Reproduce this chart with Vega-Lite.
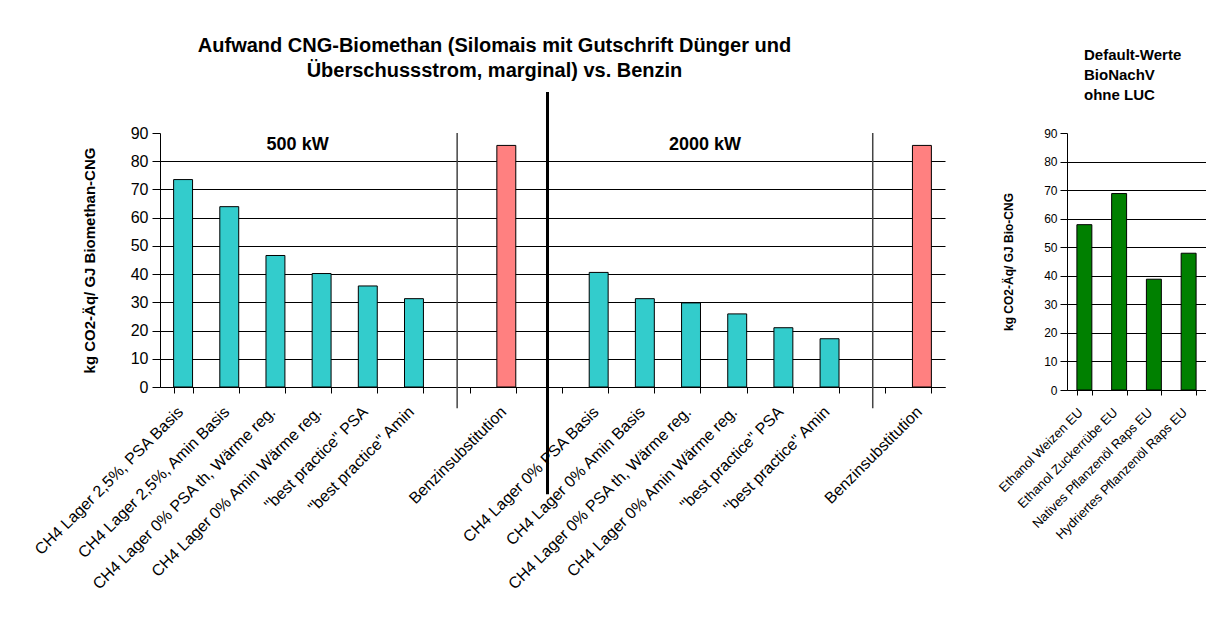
{
  "$schema": "https://vega.github.io/schema/vega-lite/v6.json",
  "padding": {"left": 31, "top": 35, "right": 0, "bottom": 0},
  "spacing": 51,
  "background": "white",
  "config": {
    "font": "Liberation Sans",
    "view": {"stroke": null},
    "axis": {"domainColor": "#000", "tickColor": "#000", "gridColor": "#000", "gridOpacity": 1, "labelColor": "#000", "titleColor": "#000", "labelOverlap": false, "labelLimit": 400},
    "title": {"color": "#000", "font": "Liberation Sans", "fontWeight": "bold"}
  },
  "hconcat": [
    {
      "width": 785,
      "height": 254,
      "title": {
        "text": ["Aufwand CNG-Biomethan (Silomais mit Gutschrift Dünger und", "Überschussstrom, marginal) vs. Benzin"],
        "fontSize": 20, "lineHeight": 25, "anchor": "middle", "dx": -58, "offset": 10
      },
      "encoding": {
        "x": {
          "field": "cat", "type": "nominal",
          "scale": {"domain": [
            "CH4 Lager 2,5%, PSA Basis|500", "CH4 Lager 2,5%, Amin Basis|500", "CH4 Lager 0% PSA th, Wärme reg.|500", "CH4 Lager 0% Amin Wärme reg.|500", "\"best practice\" PSA|500", "\"best practice\" Amin|500", "|e1", "Benzinsubstitution|500", "|e2",
            "CH4 Lager 0% PSA Basis|2000", "CH4 Lager 0% Amin Basis|2000", "CH4 Lager 0% PSA th, Wärme reg.|2000", "CH4 Lager 0% Amin Wärme reg.|2000", "\"best practice\" PSA|2000", "\"best practice\" Amin|2000", "|e3", "Benzinsubstitution|2000"
          ], "paddingInner": 0.59, "paddingOuter": 0.295},
          "axis": {
            "title": null, "labelAngle": -45, "labelAlign": "right", "labelBaseline": "middle", "labelFontSize": 16,
            "labelExpr": "split(datum.label, '|')[0]", "tickBand": "extent", "tickSize": 6, "labelPadding": 16, "labelOffset": -3, "grid": false
          }
        },
        "y": {
          "field": "value", "type": "quantitative",
          "scale": {"domain": [0, 90]},
          "axis": {
            "title": "kg CO2-Äq/ GJ Biomethan-CNG", "titleFontSize": 15, "titleFontWeight": "bold", "titlePadding": 33,
            "values": [0, 10, 20, 30, 40, 50, 60, 70, 80, 90], "labelFontSize": 16, "tickSize": 8, "labelPadding": 4,
            "grid": true, "gridOpacity": {"condition": {"test": "datum.value >= 90", "value": 0}, "value": 1}
          }
        }
      },
      "layer": [
        {
          "data": {"values": [
            {"cat": "CH4 Lager 2,5%, PSA Basis|500", "value": 73.5, "type": "CNG"},
            {"cat": "CH4 Lager 2,5%, Amin Basis|500", "value": 63.9, "type": "CNG"},
            {"cat": "CH4 Lager 0% PSA th, Wärme reg.|500", "value": 46.6, "type": "CNG"},
            {"cat": "CH4 Lager 0% Amin Wärme reg.|500", "value": 40.2, "type": "CNG"},
            {"cat": "\"best practice\" PSA|500", "value": 35.8, "type": "CNG"},
            {"cat": "\"best practice\" Amin|500", "value": 31.3, "type": "CNG"},
            {"cat": "Benzinsubstitution|500", "value": 85.6, "type": "Benzin"},
            {"cat": "CH4 Lager 0% PSA Basis|2000", "value": 40.6, "type": "CNG"},
            {"cat": "CH4 Lager 0% Amin Basis|2000", "value": 31.3, "type": "CNG"},
            {"cat": "CH4 Lager 0% PSA th, Wärme reg.|2000", "value": 29.8, "type": "CNG"},
            {"cat": "CH4 Lager 0% Amin Wärme reg.|2000", "value": 25.9, "type": "CNG"},
            {"cat": "\"best practice\" PSA|2000", "value": 21.0, "type": "CNG"},
            {"cat": "\"best practice\" Amin|2000", "value": 17.1, "type": "CNG"},
            {"cat": "Benzinsubstitution|2000", "value": 85.6, "type": "Benzin"}
          ]},
          "mark": {"type": "bar", "stroke": "#000", "strokeWidth": 1},
          "encoding": {
            "color": {"field": "type", "type": "nominal", "scale": {"domain": ["CNG", "Benzin"], "range": ["#33CCCC", "#FF8080"]}, "legend": null}
          }
        },
        {
          "data": {"values": [
            {"cat": "|e1", "value": 90, "bottom": -7.5},
            {"cat": "|e3", "value": 90, "bottom": -7.5}
          ]},
          "mark": {"type": "rule", "color": "#444", "strokeWidth": 1.5, "xOffset": -3},
          "encoding": {
            "y2": {"field": "bottom"}
          }
        },
        {
          "data": {"values": [
            {"label": "500 kW", "cat": "CH4 Lager 0% Amin Wärme reg.|500", "value": 85.7}
          ]},
          "mark": {"type": "text", "fontSize": 18, "fontWeight": "bold", "color": "#000", "baseline": "middle", "dx": -24},
          "encoding": {
            "text": {"field": "label"}
          }
        },
        {
          "data": {"values": [
            {"label": "2000 kW", "cat": "CH4 Lager 0% PSA th, Wärme reg.|2000", "value": 85.7}
          ]},
          "mark": {"type": "text", "fontSize": 18, "fontWeight": "bold", "color": "#000", "baseline": "middle", "dx": 14},
          "encoding": {
            "text": {"field": "label"}
          }
        },
        {
          "data": {"values": [
            {"cat": "|e2", "value": 104.5, "bottom": -38}
          ]},
          "mark": {"type": "rule", "color": "#000", "strokeWidth": 3, "xOffset": -5},
          "encoding": {
            "y2": {"field": "bottom"}
          }
        }
      ]
    },
    {
      "width": 139,
      "height": 257,
      "title": {
        "text": ["Default-Werte", "BioNachV", "ohne LUC"],
        "fontSize": 15, "lineHeight": 20, "anchor": "start", "frame": "group", "dx": 17, "offset": 24
      },
      "data": {"values": [
        {"fuel": "Ethanol Weizen EU", "value": 57.9},
        {"fuel": "Ethanol Zuckerrübe EU", "value": 68.8},
        {"fuel": "Natives Pflanzenöl Raps EU", "value": 38.8},
        {"fuel": "Hydriertes Pflanzenöl Raps EU", "value": 47.9}
      ]},
      "mark": {"type": "bar", "color": "#008000", "stroke": "#000", "strokeWidth": 1},
      "encoding": {
        "x": {
          "field": "fuel", "type": "nominal", "sort": null,
          "scale": {"paddingInner": 0.57, "paddingOuter": 0.285},
          "axis": {"title": null, "labelAngle": -45, "labelAlign": "right", "labelBaseline": "middle", "labelFontSize": 13, "tickBand": "extent", "tickSize": 5, "labelPadding": 15, "labelOffset": -4}
        },
        "y": {
          "field": "value", "type": "quantitative",
          "scale": {"domain": [0, 90]},
          "axis": {
            "title": "kg CO2-Äq/ GJ Bio-CNG", "titleFontSize": 12, "titleFontWeight": "bold", "titlePadding": 28,
            "values": [0, 10, 20, 30, 40, 50, 60, 70, 80, 90], "labelFontSize": 12, "tickSize": 7, "labelPadding": 3,
            "grid": true, "gridOpacity": {"condition": {"test": "datum.value >= 90", "value": 0}, "value": 1}
          }
        }
      }
    }
  ]
}
